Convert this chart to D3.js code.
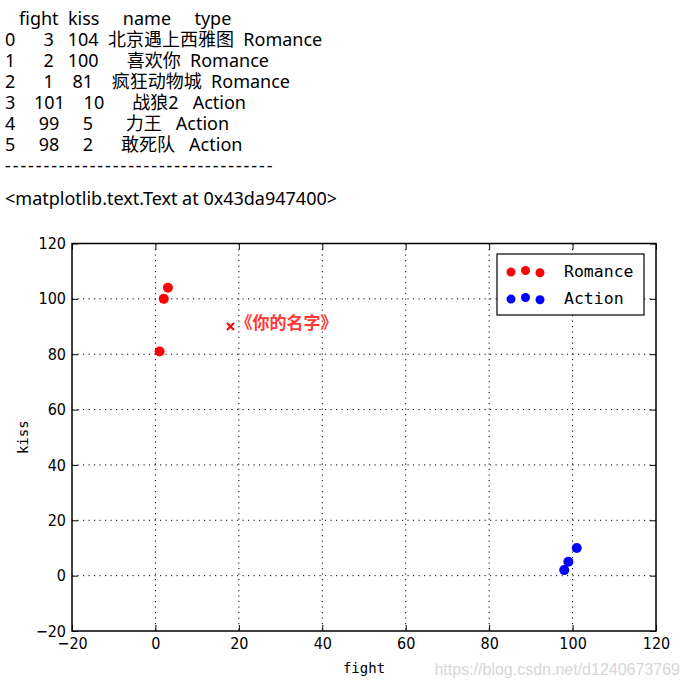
<!DOCTYPE html>
<html>
<head>
<meta charset="utf-8">
<script src="https://cdn.jsdelivr.net/npm/d3@7"></script>
<style>
  body { margin: 0; background: #fff; }
  svg text { white-space: pre; }
</style>
</head>
<body>
<svg id="chart" width="686" height="690"></svg>
<script>
// data, as in the printed DataFrame
const columns = ['fight', 'kiss', 'name', 'type'];
const names = ['北京遇上西雅图', '喜欢你', '疯狂动物城', '战狼2', '力王', '敢死队'];
const fight = [3, 2, 1, 101, 99, 98];
const kiss = [104, 100, 81, 10, 5, 2];
const types = ['Romance', 'Romance', 'Romance', 'Action', 'Action', 'Action'];
const groups = ['Romance', 'Action'];
const groupColors = ['red', 'blue'];
const xTicks = [-20, 0, 20, 40, 60, 80, 100, 120];
const yTicks = [-20, 0, 20, 40, 60, 80, 100, 120];
const noteX = [18];
const noteY = [90];
const noteText = ['《你的名字》'];

const svg = d3.select('#chart');

// --- notebook printout above the plot ---
const table = [fight, kiss, names, types];
const widths = table.map((col, i) =>
    Math.max(columns[i].length, ...col.map(v => String(v).length)));
const header = ' ' + columns.map((c, i) => '  ' + c.padStart(widths[i])).join('');
const rows = names.map((_, r) =>
    String(r) + table.map((col, i) => '  ' + String(col[r]).padStart(widths[i])).join(''));
const lines = [header, ...rows];

const printFont = '"Noto Sans", "Noto Sans CJK SC", sans-serif';

svg.append('g')
    .attr('font-family', printFont)
    .attr('font-size', 18)
    .selectAll('text')
    .data(lines)
    .join('text')
    .attr('x', 5)
    .attr('y', (d, i) => 25 + i * 21)
    .text(d => d);

// separator printed after the frame
svg.append('text')
    .attr('x', 5)
    .attr('y', 172)
    .attr('font-family', printFont)
    .attr('font-size', 18)
    .attr('letter-spacing', 1.9)
    .text('-'.repeat(35));

svg.append('text')
    .attr('x', 5)
    .attr('y', 205)
    .attr('font-family', printFont)
    .attr('font-size', 18)
    .text('<matplotlib.text.Text at 0x43da947400>');

// --- plot ---
const pL = 72, pR = 656, pT = 243.5, pB = 631;
const x = d3.scaleLinear().domain([-20, 120]).range([pL, pR]);
const y = d3.scaleLinear().domain([-20, 120]).range([pB, pT]);

const tickFont = '"Liberation Sans Narrow", "Arial Narrow", "DejaVu Sans Condensed", sans-serif';

// Grid
const grid = svg.append('g')
    .attr('stroke', '#000')
    .attr('stroke-width', 1)
    .attr('stroke-dasharray', '1.2,4.3');
grid.selectAll('line.gx')
    .data(xTicks.slice(1, -1))
    .join('line')
    .attr('class', 'gx')
    .attr('x1', d => x(d)).attr('x2', d => x(d))
    .attr('y1', pT).attr('y2', pB);
grid.selectAll('line.gy')
    .data(yTicks.slice(1, -1))
    .join('line')
    .attr('class', 'gy')
    .attr('x1', pL).attr('x2', pR)
    .attr('y1', d => y(d)).attr('y2', d => y(d));

// Axes (ticks pointing inward on all four sides)
function styleAxis(sel) {
    sel.select('.domain').remove();
    sel.selectAll('line').attr('stroke', '#000').attr('stroke-width', 1);
    sel.selectAll('text')
        .attr('font-family', tickFont)
        .attr('font-size', 16)
        .attr('fill', '#000');
}

svg.append('g')
    .attr('transform', `translate(0,${pB})`)
    .call(d3.axisBottom(x).tickValues(xTicks).tickSize(-6).tickPadding(7))
    .call(styleAxis);

svg.append('g')
    .attr('transform', `translate(${pL},0)`)
    .call(d3.axisLeft(y).tickValues(yTicks).tickSize(-6).tickPadding(6))
    .call(styleAxis);

svg.append('g')
    .attr('transform', `translate(0,${pT})`)
    .call(d3.axisTop(x).tickValues(xTicks).tickSize(-6).tickFormat(''))
    .call(styleAxis);

svg.append('g')
    .attr('transform', `translate(${pR},0)`)
    .call(d3.axisRight(y).tickValues(yTicks).tickSize(-6).tickFormat(''))
    .call(styleAxis);

// Frame
svg.append('rect')
    .attr('x', pL).attr('y', pT)
    .attr('width', pR - pL).attr('height', pB - pT)
    .attr('fill', 'none')
    .attr('stroke', '#000')
    .attr('stroke-width', 1.5);

// Points
const color = d3.scaleOrdinal().domain(groups).range(groupColors);
svg.append('g')
    .selectAll('circle')
    .data(names.map((n, i) => ({ name: n, fight: fight[i], kiss: kiss[i], type: types[i] })))
    .join('circle')
    .attr('cx', d => x(d.fight))
    .attr('cy', d => y(d.kiss))
    .attr('r', 5)
    .attr('fill', d => color(d.type));

// Annotation: x marker plus label
const note = svg.append('g');
note.selectAll('path')
    .data(noteX)
    .join('path')
    .attr('d', (d, i) => {
        const cx = x(d), cy = y(noteY[i]), s = 3.5;
        return `M${cx - s},${cy - s}L${cx + s},${cy + s}M${cx - s},${cy + s}L${cx + s},${cy - s}`;
    })
    .attr('stroke', 'red')
    .attr('stroke-width', 2);
note.selectAll('text')
    .data(noteText)
    .join('text')
    .attr('x', (d, i) => x(noteX[i]) + 5)
    .attr('y', (d, i) => y(noteY[i]) + 2)
    .attr('font-family', '"Noto Sans CJK SC", sans-serif')
    .attr('font-size', 17)
    .attr('font-weight', 'bold')
    .attr('fill', '#ff3838')
    .text(d => d);

// Legend
const legend = svg.append('g').attr('transform', 'translate(497,254)');
legend.append('rect')
    .attr('width', 147).attr('height', 61)
    .attr('fill', '#fff')
    .attr('stroke', '#000')
    .attr('stroke-width', 1.2);
const scatterOffsets = [0.4, 0, 0.55];
const entry = legend.selectAll('g')
    .data(groups)
    .join('g')
    .attr('transform', (d, i) => `translate(0,${17.5 + i * 27})`);
entry.selectAll('circle')
    .data(d => scatterOffsets.map(o => ({ type: d, o })))
    .join('circle')
    .attr('cx', (d, j) => 14 + j * 14.5)
    .attr('cy', d => d.o * 4 - 1)
    .attr('r', 4.5)
    .attr('fill', d => color(d.type));
entry.append('text')
    .attr('x', 67)
    .attr('dy', '0.35em')
    .attr('font-family', '"DejaVu Sans Mono", monospace')
    .attr('font-size', 16.5)
    .text(d => d);

// Axis labels
svg.append('text')
    .attr('x', (pL + pR) / 2)
    .attr('y', 673)
    .attr('text-anchor', 'middle')
    .attr('font-family', '"DejaVu Sans Mono", monospace')
    .attr('font-size', 14)
    .text('fight');

svg.append('text')
    .attr('transform', `translate(28,${(pT + pB) / 2}) rotate(-90)`)
    .attr('text-anchor', 'middle')
    .attr('font-family', '"DejaVu Sans Mono", monospace')
    .attr('font-size', 14)
    .text('kiss');

// Watermark
svg.append('text')
    .attr('x', 680)
    .attr('y', 675)
    .attr('text-anchor', 'end')
    .attr('font-family', '"Liberation Sans Narrow", "Liberation Sans", sans-serif')
    .attr('font-size', 16)
    .attr('fill', '#d6d6d6')
    .text('https://blog.csdn.net/d1240673769');
</script>
</body>
</html>
